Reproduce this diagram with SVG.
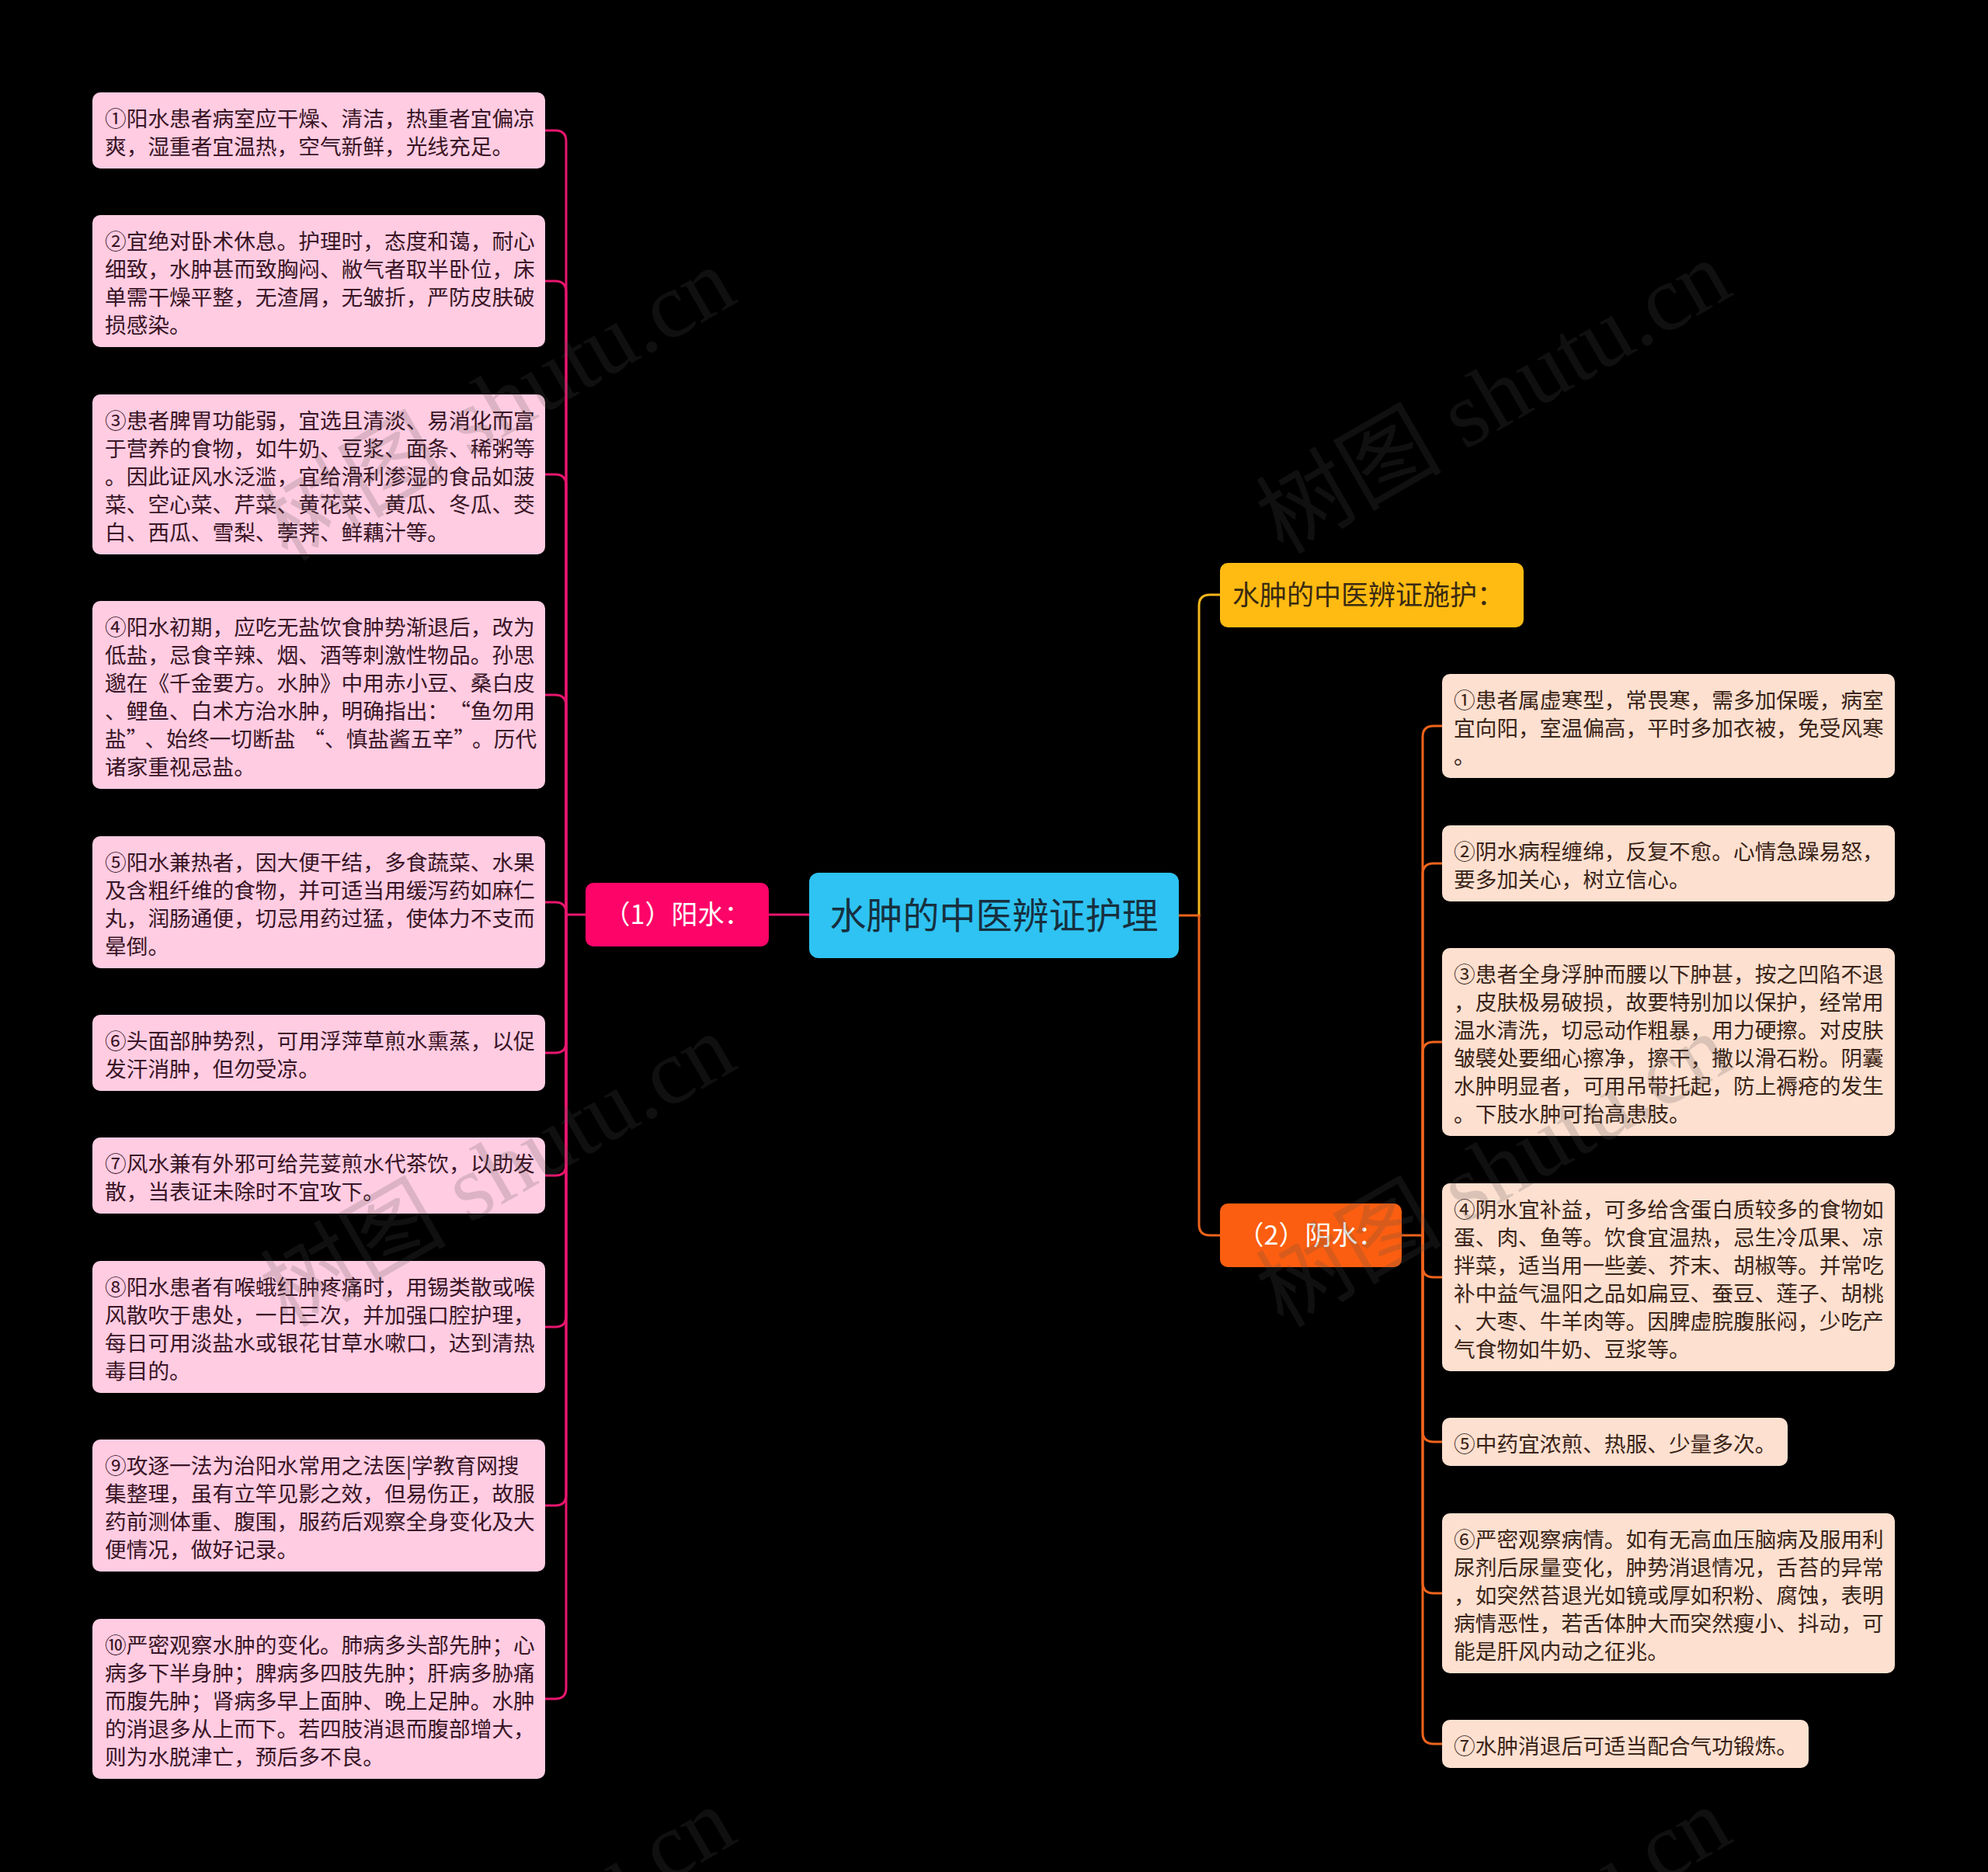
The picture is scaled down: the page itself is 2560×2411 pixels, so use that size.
<svg xmlns="http://www.w3.org/2000/svg" width="2560" height="2411" viewBox="0 0 2560 2411">
<style>
.bg{fill:#000}
.lp{fill:#ffcce2}
.rp{fill:#fde0d0}
.t{font-family:"Noto Sans CJK SC","Noto Sans",sans-serif;font-size:27.7px}
.lt{fill:#3a1526}
.rt{fill:#3b2418}
.cl{fill:none;stroke-width:3;stroke-linecap:round}
.pk{stroke:#e8166e}
.or{stroke:#f0641c}
.ye{stroke:#f5b71c}
.wm{font-family:"Liberation Serif","Noto Sans CJK SC",serif;font-size:120px;fill:#505050;fill-opacity:0.2}
</style>
<rect class="bg" x="0" y="0" width="2560" height="2411"/>
<g id="connectors">
<path class="cl pk" d="M1042,1178 H990"/>
<path class="cl pk" d="M754,1178 H729"/>
<path class="cl pk" d="M729,1178 V182 Q729,168 715,168 H702"/>
<path class="cl pk" d="M729,1178 V376 Q729,362 715,362 H702"/>
<path class="cl pk" d="M729,1178 V625 Q729,611 715,611 H702"/>
<path class="cl pk" d="M729,1178 V909 Q729,895 715,895 H702"/>
<path class="cl pk" d="M729,1178 V1176 Q729,1162 715,1162 H702"/>
<path class="cl pk" d="M729,1178 V1342 Q729,1356 715,1356 H702"/>
<path class="cl pk" d="M729,1178 V1500 Q729,1514 715,1514 H702"/>
<path class="cl pk" d="M729,1178 V1695 Q729,1709 715,1709 H702"/>
<path class="cl pk" d="M729,1178 V1925 Q729,1939 715,1939 H702"/>
<path class="cl pk" d="M729,1178 V2174 Q729,2188 715,2188 H702"/>
<path class="cl or" d="M1518,1179 H1544"/>
<path class="cl ye" d="M1544,1179 V780 Q1544,766 1558,766 H1571"/>
<path class="cl or" d="M1544,1179 V1577 Q1544,1591 1558,1591 H1571"/>
<path class="cl or" d="M1805,1591 H1832"/>
<path class="cl or" d="M1832,1591 V949 Q1832,935 1846,935 H1857"/>
<path class="cl or" d="M1832,1591 V1126 Q1832,1112 1846,1112 H1857"/>
<path class="cl or" d="M1832,1591 V1356 Q1832,1342 1846,1342 H1857"/>
<path class="cl or" d="M1832,1591 V1631 Q1832,1645 1846,1645 H1857"/>
<path class="cl or" d="M1832,1591 V1843 Q1832,1857 1846,1857 H1857"/>
<path class="cl or" d="M1832,1591 V2038 Q1832,2052 1846,2052 H1857"/>
<path class="cl or" d="M1832,1591 V2232 Q1832,2246 1846,2246 H1857"/>
</g>
<g id="root">
<rect x="1042" y="1124" width="476" height="110" rx="12" fill="#2ec3f2"/>
<text x="1280" y="1196" text-anchor="middle" font-family="Noto Sans CJK SC, sans-serif" font-size="47" fill="#17303f">水肿的中医辨证护理</text>
</g>
<g id="yang">
<rect x="754" y="1137" width="236" height="82" rx="10" fill="#fd0468"/>
<text x="872" y="1190" text-anchor="middle" font-family="Noto Sans CJK SC, sans-serif" font-size="34" fill="#ffffff">（1）阳水：</text>
</g>
<g id="shihu">
<rect x="1571" y="725" width="391" height="83" rx="10" fill="#ffbb12"/>
<text x="1587" y="779" font-family="Noto Sans CJK SC, sans-serif" font-size="35" fill="#3a2a12">水肿的中医辨证施护：</text>
</g>
<g id="yin">
<rect x="1571" y="1550" width="234" height="82" rx="10" fill="#fb5e10"/>
<text x="1688" y="1603" text-anchor="middle" font-family="Noto Sans CJK SC, sans-serif" font-size="34" fill="#ffffff">（2）阴水：</text>
</g>
<g id="l1"><rect class="lp" x="119" y="119" width="583" height="98" rx="10"/>
<text class="t lt" y="163"><tspan x="135">①阳水患者病室应干燥、清洁，热重者宜偏凉</tspan><tspan x="135" dy="36">爽，湿重者宜温热，空气新鲜，光线充足。</tspan></text></g>
<g id="l2"><rect class="lp" x="119" y="277" width="583" height="170" rx="10"/>
<text class="t lt" y="321"><tspan x="135">②宜绝对卧术休息。护理时，态度和蔼，耐心</tspan><tspan x="135" dy="36">细致，水肿甚而致胸闷、敝气者取半卧位，床</tspan><tspan x="135" dy="36">单需干燥平整，无渣屑，无皱折，严防皮肤破</tspan><tspan x="135" dy="36">损感染。</tspan></text></g>
<g id="l3"><rect class="lp" x="119" y="508" width="583" height="206" rx="10"/>
<text class="t lt" y="552"><tspan x="135">③患者脾胃功能弱，宜选且清淡、易消化而富</tspan><tspan x="135" dy="36">于营养的食物，如牛奶、豆浆、面条、稀粥等</tspan><tspan x="135" dy="36">。因此证风水泛滥，宜给滑利渗湿的食品如菠</tspan><tspan x="135" dy="36">菜、空心菜、芹菜、黄花菜、黄瓜、冬瓜、茭</tspan><tspan x="135" dy="36">白、西瓜、雪梨、荸荠、鲜藕汁等。</tspan></text></g>
<g id="l4"><rect class="lp" x="119" y="774" width="583" height="242" rx="10"/>
<text class="t lt" y="818"><tspan x="135">④阳水初期，应吃无盐饮食肿势渐退后，改为</tspan><tspan x="135" dy="36">低盐，忌食辛辣、烟、酒等刺激性物品。孙思</tspan><tspan x="135" dy="36">邈在《千金要方。水肿》中用赤小豆、桑白皮</tspan><tspan x="135" dy="36">、鲤鱼、白术方治水肿，明确指出：</tspan><tspan dx="14">“鱼勿用</tspan><tspan x="135" dy="36">盐”</tspan><tspan dx="10">、始终一切断盐</tspan><tspan dx="10">“、慎盐酱五辛”</tspan><tspan dx="10">。历代</tspan><tspan x="135" dy="36">诸家重视忌盐。</tspan></text></g>
<g id="l5"><rect class="lp" x="119" y="1077" width="583" height="170" rx="10"/>
<text class="t lt" y="1121"><tspan x="135">⑤阳水兼热者，因大便干结，多食蔬菜、水果</tspan><tspan x="135" dy="36">及含粗纤维的食物，并可适当用缓泻药如麻仁</tspan><tspan x="135" dy="36">丸，润肠通便，切忌用药过猛，使体力不支而</tspan><tspan x="135" dy="36">晕倒。</tspan></text></g>
<g id="l6"><rect class="lp" x="119" y="1307" width="583" height="98" rx="10"/>
<text class="t lt" y="1351"><tspan x="135">⑥头面部肿势烈，可用浮萍草煎水熏蒸，以促</tspan><tspan x="135" dy="36">发汗消肿，但勿受凉。</tspan></text></g>
<g id="l7"><rect class="lp" x="119" y="1465" width="583" height="98" rx="10"/>
<text class="t lt" y="1509"><tspan x="135">⑦风水兼有外邪可给芫荽煎水代茶饮，以助发</tspan><tspan x="135" dy="36">散，当表证未除时不宜攻下。</tspan></text></g>
<g id="l8"><rect class="lp" x="119" y="1624" width="583" height="170" rx="10"/>
<text class="t lt" y="1668"><tspan x="135">⑧阳水患者有喉蛾红肿疼痛时，用锡类散或喉</tspan><tspan x="135" dy="36">风散吹于患处，一日三次，并加强口腔护理，</tspan><tspan x="135" dy="36">每日可用淡盐水或银花甘草水嗽口，达到清热</tspan><tspan x="135" dy="36">毒目的。</tspan></text></g>
<g id="l9"><rect class="lp" x="119" y="1854" width="583" height="170" rx="10"/>
<text class="t lt" y="1898"><tspan x="135">⑨攻逐一法为治阳水常用之法医|学教育网搜</tspan><tspan x="135" dy="36">集整理，虽有立竿见影之效，但易伤正，故服</tspan><tspan x="135" dy="36">药前测体重、腹围，服药后观察全身变化及大</tspan><tspan x="135" dy="36">便情况，做好记录。</tspan></text></g>
<g id="l10"><rect class="lp" x="119" y="2085" width="583" height="206" rx="10"/>
<text class="t lt" y="2129"><tspan x="135">⑩严密观察水肿的变化。肺病多头部先肿；心</tspan><tspan x="135" dy="36">病多下半身肿；脾病多四肢先肿；肝病多胁痛</tspan><tspan x="135" dy="36">而腹先肿；肾病多早上面肿、晚上足肿。水肿</tspan><tspan x="135" dy="36">的消退多从上而下。若四肢消退而腹部增大，</tspan><tspan x="135" dy="36">则为水脱津亡，预后多不良。</tspan></text></g>
<g id="r1"><rect class="rp" x="1857" y="868" width="583" height="134" rx="10"/>
<text class="t rt" y="912"><tspan x="1872">①患者属虚寒型，常畏寒，需多加保暖，病室</tspan><tspan x="1872" dy="36">宜向阳，室温偏高，平时多加衣被，免受风寒</tspan><tspan x="1872" dy="36">。</tspan></text></g>
<g id="r2"><rect class="rp" x="1857" y="1063" width="583" height="98" rx="10"/>
<text class="t rt" y="1107"><tspan x="1872">②阴水病程缠绵，反复不愈。心情急躁易怒，</tspan><tspan x="1872" dy="36">要多加关心，树立信心。</tspan></text></g>
<g id="r3"><rect class="rp" x="1857" y="1221" width="583" height="242" rx="10"/>
<text class="t rt" y="1265"><tspan x="1872">③患者全身浮肿而腰以下肿甚，按之凹陷不退</tspan><tspan x="1872" dy="36">，皮肤极易破损，故要特别加以保护，经常用</tspan><tspan x="1872" dy="36">温水清洗，切忌动作粗暴，用力硬擦。对皮肤</tspan><tspan x="1872" dy="36">皱襞处要细心擦净，擦干，撒以滑石粉。阴囊</tspan><tspan x="1872" dy="36">水肿明显者，可用吊带托起，防上褥疮的发生</tspan><tspan x="1872" dy="36">。下肢水肿可抬高患肢。</tspan></text></g>
<g id="r4"><rect class="rp" x="1857" y="1524" width="583" height="242" rx="10"/>
<text class="t rt" y="1568"><tspan x="1872">④阴水宜补益，可多给含蛋白质较多的食物如</tspan><tspan x="1872" dy="36">蛋、肉、鱼等。饮食宜温热，忌生冷瓜果、凉</tspan><tspan x="1872" dy="36">拌菜，适当用一些姜、芥末、胡椒等。并常吃</tspan><tspan x="1872" dy="36">补中益气温阳之品如扁豆、蚕豆、莲子、胡桃</tspan><tspan x="1872" dy="36">、大枣、牛羊肉等。因脾虚脘腹胀闷，少吃产</tspan><tspan x="1872" dy="36">气食物如牛奶、豆浆等。</tspan></text></g>
<g id="r5"><rect class="rp" x="1857" y="1826" width="445" height="62" rx="10"/>
<text class="t rt" x="1872" y="1870">⑤中药宜浓煎、热服、少量多次。</text></g>
<g id="r6"><rect class="rp" x="1857" y="1949" width="583" height="206" rx="10"/>
<text class="t rt" y="1993"><tspan x="1872">⑥严密观察病情。如有无高血压脑病及服用利</tspan><tspan x="1872" dy="36">尿剂后尿量变化，肿势消退情况，舌苔的异常</tspan><tspan x="1872" dy="36">，如突然苔退光如镜或厚如积粉、腐蚀，表明</tspan><tspan x="1872" dy="36">病情恶性，若舌体肿大而突然瘦小、抖动，可</tspan><tspan x="1872" dy="36">能是肝风内动之征兆。</tspan></text></g>
<g id="r7"><rect class="rp" x="1857" y="2215" width="472" height="62" rx="10"/>
<text class="t rt" x="1872" y="2259">⑦水肿消退后可适当配合气功锻炼。</text></g>
<g id="watermarks">
<text class="wm" x="645" y="560" text-anchor="middle" transform="rotate(-30 645 527)">树图 shutu.cn</text>
<text class="wm" x="1927" y="551" text-anchor="middle" transform="rotate(-30 1927 518)">树图 shutu.cn</text>
<text class="wm" x="645" y="1547" text-anchor="middle" transform="rotate(-30 645 1514)">树图 shutu.cn</text>
<text class="wm" x="1927" y="1547" text-anchor="middle" transform="rotate(-30 1927 1514)">树图 shutu.cn</text>
<text class="wm" x="645" y="2543" text-anchor="middle" transform="rotate(-30 645 2510)">树图 shutu.cn</text>
<text class="wm" x="1927" y="2543" text-anchor="middle" transform="rotate(-30 1927 2510)">树图 shutu.cn</text>
</g>
</svg>
